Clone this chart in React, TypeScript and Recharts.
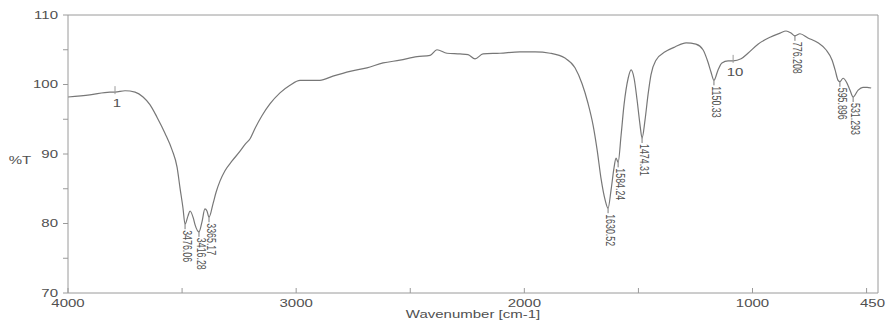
import React from "react";
import { LineChart, Line, XAxis, YAxis, ReferenceLine, LabelList, Label } from "recharts";

// IR spectrum, wavenumber [cm-1] vs %T
const wavenumbers = [
  4000, 3904, 3816, 3794, 3750, 3706, 3671, 3641, 3610, 3575, 3544, 3522, 3509, 3496, 3487, 3474,
  3465, 3451, 3443, 3426, 3413, 3400, 3391, 3382, 3364, 3351, 3334, 3312, 3281, 3246, 3224, 3202,
  3180, 3150, 3115, 3071, 3027, 2983, 2896, 2839, 2764, 2690, 2619, 2545, 2470, 2413, 2383, 2339,
  2282, 2247, 2216, 2181, 2107, 2019, 1953, 1887, 1822, 1778, 1747, 1721, 1699, 1681, 1664, 1646,
  1633, 1620, 1607, 1598, 1589, 1576, 1563, 1545, 1532, 1519, 1506, 1493, 1484, 1471, 1458, 1445,
  1423, 1383, 1340, 1291, 1248, 1217, 1195, 1182, 1169, 1151, 1134, 1107, 1085, 1050, 1020, 976,
  923, 879, 853, 831, 814, 792, 757, 713, 678, 651, 638, 625, 617, 603, 586, 573, 559, 537, 516,
  498, 480,
];

const transmittance = [
  98.2, 98.5, 98.9, 98.9, 99.1, 98.9, 98.2, 97.1, 95.3, 93.0, 90.6, 88.1, 85.1, 82.2, 79.9, 81.1,
  81.8, 80.8, 79.8, 78.8, 80.2, 82.1, 81.8, 80.9, 82.9, 84.5, 86.1, 87.6, 89.0, 90.4, 91.4, 92.2,
  93.7, 95.5, 97.2, 98.8, 99.9, 100.6, 100.6, 101.2, 101.9, 102.4, 103.1, 103.5, 104.0, 104.2, 105.0, 104.5,
  104.4, 104.3, 103.7, 104.4, 104.5, 104.7, 104.7, 104.5, 103.8, 102.4, 100.1, 97.3, 94.2, 90.6, 86.5, 83.4,
  82.2, 84.8, 88.0, 89.4, 88.8, 92.7, 97.1, 100.9, 102.1, 100.9, 97.8, 94.2, 92.3, 94.9, 98.5, 101.4,
  103.5, 104.7, 105.4, 106.0, 105.8, 105.0, 103.2, 101.8, 100.6, 102.1, 103.1, 103.4, 103.4, 103.7, 104.5, 105.8,
  106.8, 107.4, 107.7, 107.4, 107.0, 107.3, 106.7, 106.0, 105.0, 103.5, 102.1, 100.6, 100.4, 100.9, 100.2, 99.2, 98.2, 99.2, 99.6,
  99.6, 99.5,
];

const peakWavenumbers = [3487, 3426, 3382, 1633, 1589, 1484, 1169, 814, 617, 559];
const peakTexts = ["3476.06", "3416.28", "3365.17", "1630.52", "1584.24", "1474.31", "1150.33", "776.208", "595.896", "531.293"];

const markerWavenumbers = [3794, 1085];
const markerTexts = ["1", "10"];

const xTicks = [4000, 3500, 3000, 2500, 2000, 1500, 1000, 500, 450];
const xLabelled = [4000, 3000, 2000, 1000, 450];
const yTicks = [70, 75, 80, 85, 90, 95, 100, 105, 110];
const yLabelled = [70, 80, 90, 100, 110];

const data = wavenumbers.map((wn, i) => {
  const p = peakWavenumbers.indexOf(wn);
  const m = markerWavenumbers.indexOf(wn);
  return {
    wn,
    t: transmittance[i],
    peak: p >= 0 ? peakTexts[p] : undefined,
    mark: m >= 0 ? markerTexts[m] : undefined,
  };
});

const FONT = "'Liberation Sans', Arial, sans-serif";
const AXIS = "#9a9a9a";
const INK = "#505050";
const CURVE = "#777";

// scanned text is stretched sideways, so the labels get a horizontal scale
const WideText = ({ x, y, anchor, children }: any) => (
  <g transform={`translate(${x},${y}) scale(1.5,1)`}>
    <text x={0} y={0} textAnchor={anchor} fontSize={10} fontFamily={FONT} fill={INK}>
      {children}
    </text>
  </g>
);

const XTick = ({ x, y, payload }: any) => {
  const v = payload.value;
  const last = v === 450;
  return (
    <g>
      {!last && <line x1={x} x2={x} y1={y} y2={y - 5} stroke={AXIS} />}
      {xLabelled.includes(v) && (
        <WideText x={last ? 885 : x} y={y + 14} anchor={last ? "end" : "middle"}>
          {v}
        </WideText>
      )}
    </g>
  );
};

const YTick = ({ x, y, payload }: any) => {
  const v = payload.value;
  return (
    <g>
      <line x1={x - 5} x2={x} y1={y} y2={y} stroke={AXIS} />
      {yLabelled.includes(v) && (
        <WideText x={x - 10} y={y + 3.5} anchor="end">
          {v}
        </WideText>
      )}
    </g>
  );
};

const PeakLabel = ({ x, y, value }: any) => {
  if (!value) return null;
  return (
    <g>
      <line x1={x} x2={x} y1={y} y2={y + 5} stroke={CURVE} />
      <g transform={`translate(${x + 3},${y + 6}) rotate(90) scale(0.68,1)`}>
        <text x={0} y={0} dominantBaseline="central" fontSize={13} fontFamily={FONT} fill={INK}>
          {value}
        </text>
      </g>
    </g>
  );
};

const MarkLabel = ({ x, y, value }: any) => {
  if (!value) return null;
  return (
    <g>
      <line x1={x} x2={x} y1={y - 6} y2={y + 2} stroke={AXIS} />
      <WideText x={x + 2} y={y + 15} anchor="middle">
        {value}
      </WideText>
    </g>
  );
};

export default function App() {
  return (
    <div style={{ position: "absolute", left: 0, top: 0, width: 886, height: 322, background: "#fff" }}>
      <LineChart width={886} height={322} data={data} margin={{ top: 15, right: 8, bottom: 0, left: 8 }}>
        <XAxis
          dataKey="wn"
          type="number"
          domain={[450, 4000]}
          reversed
          ticks={xTicks}
          interval={0}
          allowDataOverflow
          height={29}
          stroke={AXIS}
          tickLine={false}
          tickSize={0}
          tickMargin={0}
          tick={<XTick />}
        >
          <Label
            content={({ viewBox }: any) => (
              <WideText x={viewBox.x + viewBox.width / 2} y={viewBox.y + 25} anchor="middle">
                Wavenumber [cm-1]
              </WideText>
            )}
          />
        </XAxis>
        <YAxis
          type="number"
          domain={[70, 110]}
          ticks={yTicks}
          interval={0}
          allowDataOverflow
          width={60}
          stroke={AXIS}
          tickLine={false}
          tickSize={0}
          tickMargin={0}
          tick={<YTick />}
        >
          <Label
            content={({ viewBox }: any) => (
              <WideText x={viewBox.x + 12} y={viewBox.y + viewBox.height / 2 + 10} anchor="middle">
                %T
              </WideText>
            )}
          />
        </YAxis>
        <ReferenceLine y={110} stroke={AXIS} />
        <ReferenceLine x={450} stroke={AXIS} />
        <Line
          dataKey="t"
          type="monotone"
          stroke={CURVE}
          strokeWidth={1.2}
          dot={false}
          isAnimationActive={false}
        >
          <LabelList dataKey="peak" content={<PeakLabel />} />
          <LabelList dataKey="mark" content={<MarkLabel />} />
        </Line>
      </LineChart>
    </div>
  );
}
